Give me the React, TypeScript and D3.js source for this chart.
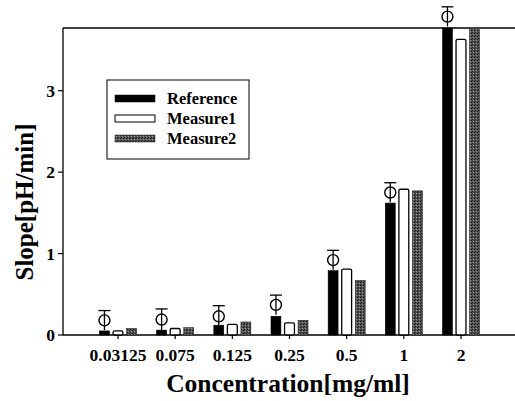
import React from "react";
import * as d3 from "d3";

const categories = ["0.03125", "0.075", "0.125", "0.25", "0.5", "1", "2"];
const referenceValues = [0.05, 0.06, 0.12, 0.23, 0.79, 1.62, 3.77];
const measure1Values = [0.05, 0.08, 0.13, 0.15, 0.81, 1.79, 3.63];
const measure2Values = [0.08, 0.09, 0.16, 0.18, 0.67, 1.77, 3.75];
const markerMeans = [0.18, 0.19, 0.23, 0.37, 0.92, 1.75, 3.91];
const markerErrors = [0.12, 0.13, 0.13, 0.12, 0.12, 0.12, 0.12];
const yTicks = [0, 1, 2, 3];
const seriesNames = ["Reference", "Measure1", "Measure2"];

const W = 515;
const H = 401;

function T(props: any) {
  const { children, ...rest } = props;
  return (
    <text fontWeight="bold" style={{ fontFamily: "Liberation Serif" }} {...rest}>
      {children}
    </text>
  );
}

export default function App() {
  const left = 63;
  const right = 515;
  const top = 28;
  const bottom = 335;

  const x = d3.scalePoint().domain(categories).range([118, 461]);
  const y = d3.scaleLinear().domain([0, 3.77]).range([bottom, top]);
  const inner = d3
    .scaleBand()
    .domain(seriesNames)
    .range([-18.5, 18.5])
    .paddingInner(0.27);

  const series = [referenceValues, measure1Values, measure2Values];
  const fills = ["#000", "#fff", "url(#stipple)"];
  const strokes = ["#000", "#000", "#222"];

  return (
    <svg width={W} height={H} style={{ position: "absolute", left: 0, top: 0, background: "#fff" }}>
      <defs>
        <pattern id="stipple" width="3" height="3" patternUnits="userSpaceOnUse">
          <rect width="3" height="3" fill="#555" />
          <rect x="0" y="0" width="1" height="1" fill="#111" />
          <rect x="2" y="1" width="1" height="1" fill="#999" />
          <rect x="1" y="2" width="1" height="1" fill="#222" />
        </pattern>
      </defs>

      {/* frame */}
      <line x1={left} x2={right} y1={top} y2={top} stroke="#000" strokeWidth={1.3} />
      <line x1={left} x2={left} y1={top} y2={bottom} stroke="#000" strokeWidth={1.3} />
      <line x1={left} x2={right} y1={bottom} y2={bottom} stroke="#000" strokeWidth={1.3} />

      {/* y ticks */}
      {yTicks.map((t) => (
        <g key={t}>
          <line x1={left - 5} x2={left} y1={y(t)} y2={y(t)} stroke="#000" strokeWidth={1.2} />
          <T x={left - 8} y={y(t)} dy="0.35em" textAnchor="end" fontSize={17.5}>
            {t}
          </T>
        </g>
      ))}

      {/* x ticks */}
      {categories.map((c) => (
        <g key={c}>
          <line x1={x(c)} x2={x(c)} y1={bottom} y2={bottom + 4} stroke="#000" strokeWidth={1.2} />
          <T x={x(c)} y={361} textAnchor="middle" fontSize={17.5}>
            {c}
          </T>
        </g>
      ))}

      {/* bars */}
      {series.map((vals, si) =>
        vals.map((v, i) => {
          const bx = (x(categories[i]) as number) + (inner(seriesNames[si]) as number);
          const bw = inner.bandwidth();
          return (
            <rect
              key={`${si}-${i}`}
              x={bx}
              y={y(v)}
              width={bw}
              height={bottom - y(v)}
              fill={fills[si]}
              stroke={strokes[si]}
              strokeWidth={si === 1 ? 1.3 : 0.6}
              rx={si === 1 ? 1.5 : 0}
            />
          );
        })
      )}

      {/* markers with error bars */}
      {markerMeans.map((m, i) => {
        const cx =
          (x(categories[i]) as number) +
          (inner(seriesNames[0]) as number) +
          inner.bandwidth() / 2;
        const e = markerErrors[i];
        return (
          <g key={`m-${i}`}>
            <line x1={cx} x2={cx} y1={y(m - e)} y2={y(m + e)} stroke="#000" strokeWidth={1.3} />
            <line x1={cx - 6} x2={cx + 6} y1={y(m + e)} y2={y(m + e)} stroke="#000" strokeWidth={1.3} />
            <circle cx={cx} cy={y(m)} r={5.5} fill="none" stroke="#000" strokeWidth={1.4} />
          </g>
        );
      })}

      {/* legend */}
      <g>
        <rect x={107} y={80} width={142} height={79} fill="#fff" stroke="#000" strokeWidth={1} />
        {seriesNames.map((n, i) => (
          <g key={n}>
            <rect
              x={115}
              y={95 + i * 20}
              width={40}
              height={7}
              fill={fills[i]}
              stroke={strokes[i]}
              strokeWidth={i === 1 ? 1 : 0.5}
            />
            <T x={167} y={104 + i * 20} fontSize={16.5}>
              {n}
            </T>
          </g>
        ))}
      </g>

      {/* axis titles */}
      <T x={288} y={392} textAnchor="middle" fontSize={25.5}>
        Concentration[mg/ml]
      </T>
      <T transform="translate(33, 202) rotate(-90)" textAnchor="middle" fontSize={25}>
        Slope[pH/min]
      </T>
    </svg>
  );
}
